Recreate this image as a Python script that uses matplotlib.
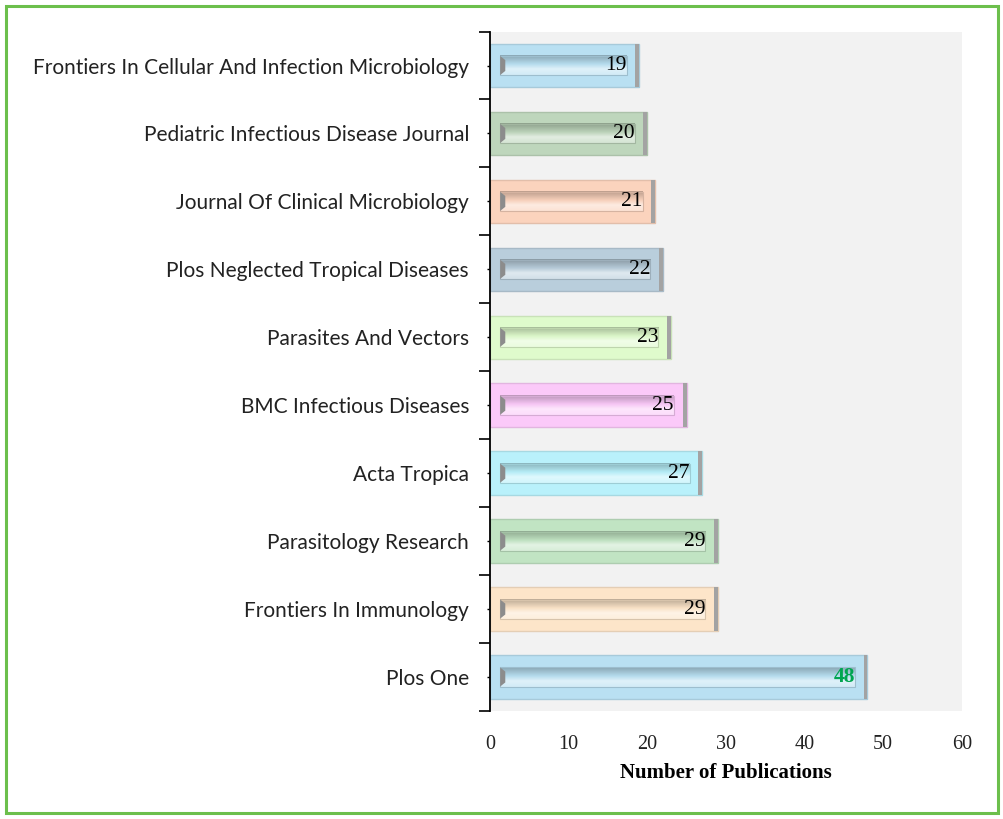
import matplotlib
matplotlib.use("Agg")
import matplotlib.pyplot as plt
import numpy as np
from matplotlib.patches import Rectangle, Polygon
from matplotlib.colors import to_rgb

journals = [
    "Plos One",
    "Frontiers In Immunology",
    "Parasitology Research",
    "Acta Tropica",
    "BMC Infectious Diseases",
    "Parasites And Vectors",
    "Plos Neglected Tropical Diseases",
    "Journal Of Clinical Microbiology",
    "Pediatric Infectious Disease Journal",
    "Frontiers In Cellular And Infection Microbiology",
]
publications = [48, 29, 29, 27, 25, 23, 22, 21, 20, 19]
bar_colors = ["#b9e0f2", "#fde5c9", "#c1e4c3", "#b9f1fb", "#fbc9f9",
              "#dffbcc", "#b9cedc", "#fbd3bd", "#bed6bc", "#b9e0f2"]
xticks = [0, 10, 20, 30, 40, 50, 60]

fig = plt.figure(figsize=(10.04, 8.19), dpi=100)
fig.patch.set_facecolor("white")
fig.patches.append(Rectangle((0.006, 0.007), 0.988, 0.986, transform=fig.transFigure,
                             fill=False, edgecolor="#6cbf4c", linewidth=2.2))

ax = fig.add_axes([0.488, 0.1319, 0.47, 0.8296])
ax.set_facecolor("#f2f2f2")

y = np.arange(len(journals))
h = 0.64


def shade(c, f):
    c = np.array(to_rgb(c))
    if f < 0:
        return c * (1 + f)
    return c + (1 - c) * f


edge_cols = [shade(c, -0.1) for c in bar_colors]
ax.barh(y, publications, height=h, color=bar_colors, edgecolor=edge_cols,
        linewidth=1.0, zorder=2)
ax.barh(y, [0.5] * len(y), left=np.array(publications) - 0.5, height=h,
        color="#a3a3a3", linewidth=0, zorder=3)

ih = 0.28
stops = np.array([0.0, 0.15, 0.45, 0.7, 1.0])
facs = [-0.25, -0.18, -0.02, 0.55, 0.35]
n = 40
t = np.linspace(0, 1, n)
for yi, v, c in zip(y, publications, bar_colors):
    cols = np.array([shade(c, f) for f in facs])
    grad = np.stack([np.interp(t, stops, cols[:, k]) for k in range(3)], axis=-1)
    img = grad[:, None, :]
    x0, x1 = 1.3, v - 1.6
    ax.imshow(img, extent=(x0, x1, yi - ih / 2, yi + ih / 2), origin="upper",
              aspect="auto", interpolation="bilinear", zorder=3)
    ax.add_patch(Rectangle((x0, yi - ih / 2), x1 - x0, ih, fill=False,
                           edgecolor=shade(c, -0.15), linewidth=0.8, zorder=4))
    ax.add_patch(Polygon([(x0, yi - ih / 2), (x0, yi + ih / 2),
                          (x0 + 0.65, yi + ih / 2 - 0.06), (x0 + 0.65, yi - ih / 2 + 0.06)],
                         closed=True, facecolor="#8c8c8c", edgecolor="none", zorder=4))

for yi, v in zip(y, publications):
    if v == max(publications):
        ax.text(v - 1.6, yi, str(v), ha="right", va="center", color="#00a550",
                fontsize=15.5, fontweight="bold", family="Liberation Serif", zorder=5)
    else:
        ax.text(v - 1.6, yi, str(v), ha="right", va="center", color="black",
                fontsize=15.5, family="Liberation Serif", zorder=5)

ax.set_xlim(0, 60)
ax.set_ylim(-0.5, len(y) - 0.5)
ax.set_xticks(xticks)
ax.set_xticklabels([str(t) for t in xticks], family="Liberation Serif",
                   fontsize=14.5, color="#222222")
ax.tick_params(axis="x", length=0, pad=17)

ax.set_yticks(np.arange(-0.5, len(y), 1.0))
ax.set_yticklabels([])
ax.tick_params(axis="y", which="major", length=8, width=1.2, direction="out")
ax.set_yticks(y, minor=True)
ax.set_yticklabels(journals, minor=True, family="Lato", fontsize=15,
                   color="#222222")
ax.tick_params(axis="y", which="minor", length=4, width=1.0, direction="inout", pad=13)

for s in ["top", "right", "bottom"]:
    ax.spines[s].set_visible(False)
ax.spines["left"].set_linewidth(1.3)
ax.spines["left"].set_zorder(6)

ax.set_xlabel("Number of Publications", family="Liberation Serif",
              fontsize=15, fontweight="bold", labelpad=7)

fig.savefig("out.png", dpi=100, facecolor="white")
